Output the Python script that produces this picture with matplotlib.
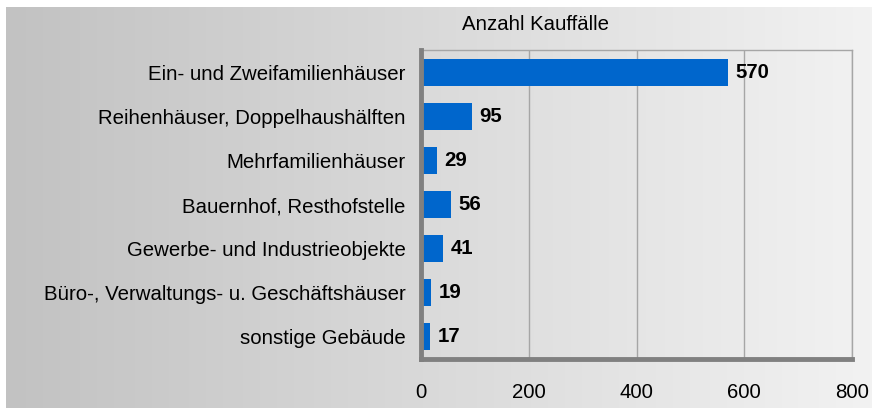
import numpy as np
import matplotlib
matplotlib.use('Agg')
import matplotlib.pyplot as plt

plt.rcParams['font.family'] = ['Liberation Sans', 'DejaVu Sans']

# data
categories = ['Ein- und Zweifamilienhäuser', 'Reihenhäuser, Doppelhaushälften',
              'Mehrfamilienhäuser', 'Bauernhof, Resthofstelle',
              'Gewerbe- und Industrieobjekte', 'Büro-, Verwaltungs- u. Geschäftshäuser',
              'sonstige Gebäude']
values = [570, 95, 29, 56, 41, 19, 17]
xticks = [0, 200, 400, 600, 800]
title = 'Anzahl Kauffälle'

W, H = 872, 408
fs = 14.7
fig = plt.figure(figsize=(W / 100, H / 100), dpi=100)
fig.patch.set_facecolor('white')

# gradient background of the whole chart
bg = fig.add_axes([6 / W, 0, 1 - 6 / W, 1 - 7 / H], zorder=-2)
grad = np.linspace(0, 1, 256).reshape(1, -1)
bg.imshow(grad, aspect='auto', cmap=matplotlib.colors.LinearSegmentedColormap.from_list(
    'bg', ['#c2c2c2', '#f2f2f2']), extent=[0, 1, 0, 1])
bg.set_axis_off()

# plot area
x0, x1 = 421, 852
y0, y1 = 50, 359
ax = fig.add_axes([x0 / W, 1 - y1 / H, (x1 - x0) / W, (y1 - y0) / H])
ax.set_xlim(0, 800)
ax.set_ylim(len(categories) - 0.5, -0.5)
ax.imshow(grad, aspect='auto', cmap=matplotlib.colors.LinearSegmentedColormap.from_list(
    'pa', ['#dadada', '#f1f1f1']), extent=[0, 800, len(categories) - 0.5, -0.5], zorder=0)

ypos = np.arange(len(categories))
ax.barh(ypos, values, height=0.61, color='#0066cc', zorder=3)
for y, v in zip(ypos, values):
    ax.text(v + 14, y, str(v), va='center', ha='left', fontsize=fs,
            fontweight='bold', color='black', zorder=4)

ax.set_xticks(xticks)
ax.set_xticklabels([str(t) for t in xticks], fontsize=fs)
ax.set_yticks(ypos)
ax.set_yticklabels(categories, fontsize=fs)
ax.tick_params(axis='both', length=0, colors='black')
ax.tick_params(axis='x', pad=17)
ax.tick_params(axis='y', pad=11)
ax.grid(axis='x', color='#a6a6a6', linewidth=1, zorder=1)

for s in ['left', 'bottom']:
    ax.spines[s].set_color('#808080')
    ax.spines[s].set_linewidth(3.5)
    ax.spines[s].set_zorder(5)
for s in ['top', 'right']:
    ax.spines[s].set_color('#a6a6a6')
    ax.spines[s].set_linewidth(1)

fig.text(536 / W, 1 - 25 / H, title, ha='center', va='center', fontsize=fs)

fig.savefig('out.png', dpi=100)
